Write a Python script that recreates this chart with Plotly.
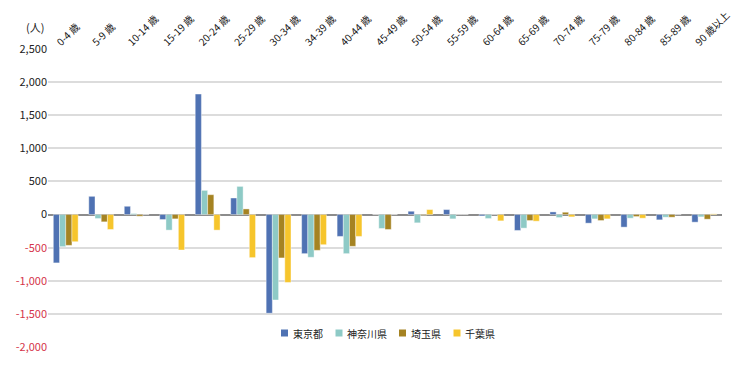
import plotly.graph_objects as go

categories = ["0-4 歳", "5-9 歳", "10-14 歳", "15-19 歳", "20-24 歳", "25-29 歳",
              "30-34 歳", "34-39 歳", "40-44 歳", "45-49 歳", "50-54 歳", "55-59 歳",
              "60-64 歳", "65-69 歳", "70-74 歳", "75-79 歳", "80-84 歳", "85-89 歳",
              "90 歳以上"]

tokyo = [-730, 275, 125, -75, 1820, 250, -1490, -590, -330, 0, 50, 75,
         -20, -240, 40, -130, -190, -80, -115]
kanagawa = [-485, -60, 15, -235, 365, 425, -1290, -645, -590, -210, -125, -65,
            -60, -205, -45, -65, -55, -40, -35]
saitama = [-465, -110, -25, -65, 300, 85, -655, -540, -480, -225, -10, 0,
           0, -90, 35, -90, -30, -40, -70]
chiba = [-410, -225, 0, -535, -235, -650, -1025, -455, -330, 0, 75, 0,
         -95, -100, -35, -65, -55, 0, 10]

series_names = ["東京都", "神奈川県", "埼玉県", "千葉県"]
series_values = [tokyo, kanagawa, saitama, chiba]
colors = ["#4f72b3", "#8ecac6", "#a58322", "#f6c52c"]

y_ticks = [2500, 2000, 1500, 1000, 500, 0, -500, -1000, -1500, -2000]
y_ticktext = []
for v in y_ticks:
    s = f"{v:,}"
    if v < 0:
        s = f"<span style='color:#d5344a'>{s}</span>"
    y_ticktext.append(s)

FONT = "Noto Sans CJK JP"

# page body has an 8px default margin, so the figure is 8px smaller
W, H = 742, 364
ML, MR, MT, MB = 40, 28, 41, 25
PW = W - ML - MR
PH = H - MT - MB

fig = go.Figure()
for name, vals, col in zip(series_names, series_values, colors):
    fig.add_trace(go.Bar(
        x=categories, y=vals, name=name, showlegend=False,
        marker=dict(color=col, line=dict(color="rgba(255,255,255,0.5)", width=0.8)),
    ))

# manual legend (small squares, tight spacing)
legend_sq_x = [276.5, 331, 394.5, 449]   # figure px, square centres
legend_txt_x = [283, 337, 401, 455]      # figure px, text starts
legend_y = 325                           # figure px
ly = (H - MB - legend_y) / PH
shapes = []
annotations = []
for name, col, sx, tx in zip(series_names, colors, legend_sq_x, legend_txt_x):
    shapes.append(dict(type="rect", xref="paper", yref="paper",
                       xsizemode="pixel", ysizemode="pixel",
                       xanchor=(sx - ML) / PW, yanchor=ly,
                       x0=-3.5, x1=3.5, y0=-3.5, y1=3.5,
                       fillcolor=col, line=dict(width=0)))
    annotations.append(dict(text=name, x=(tx - ML) / PW, y=ly, xref="paper", yref="paper",
                            xanchor="left", yanchor="middle", showarrow=False,
                            font=dict(family=FONT, size=10, color="#222222")))

annotations.append(dict(text="(人)", x=0, y=1, xref="paper", yref="paper",
                        xanchor="right", yanchor="bottom", xshift=-2, yshift=12,
                        showarrow=False, font=dict(family=FONT, size=11, color="#222222")))

fig.update_layout(
    width=W, height=H,
    margin=dict(l=ML, r=MR, t=MT, b=MB),
    paper_bgcolor="white", plot_bgcolor="white",
    barmode="group", bargap=0.30, bargroupgap=0,
    font=dict(family=FONT, size=11, color="#222222"),
    showlegend=False,
    xaxis=dict(side="top", tickangle=-45, showgrid=False, showline=False,
               ticks="", tickfont=dict(family=FONT, size=10, color="#111111"),
               zeroline=False, automargin=False, ticklabelshift=-8,
               ticklabelstandoff=-2),
    yaxis=dict(range=[-2000, 2500], tickvals=y_ticks, ticktext=y_ticktext,
               showgrid=True, gridcolor="#dcdcdc", gridwidth=2,
               zeroline=True, zerolinecolor="#8c8c8c", zerolinewidth=2,
               showline=False, ticks="", ticklen=0, automargin=False,
               tickfont=dict(family=FONT, size=11, color="#222222")),
    shapes=shapes,
    annotations=annotations,
)

fig.write_html("out.html")
